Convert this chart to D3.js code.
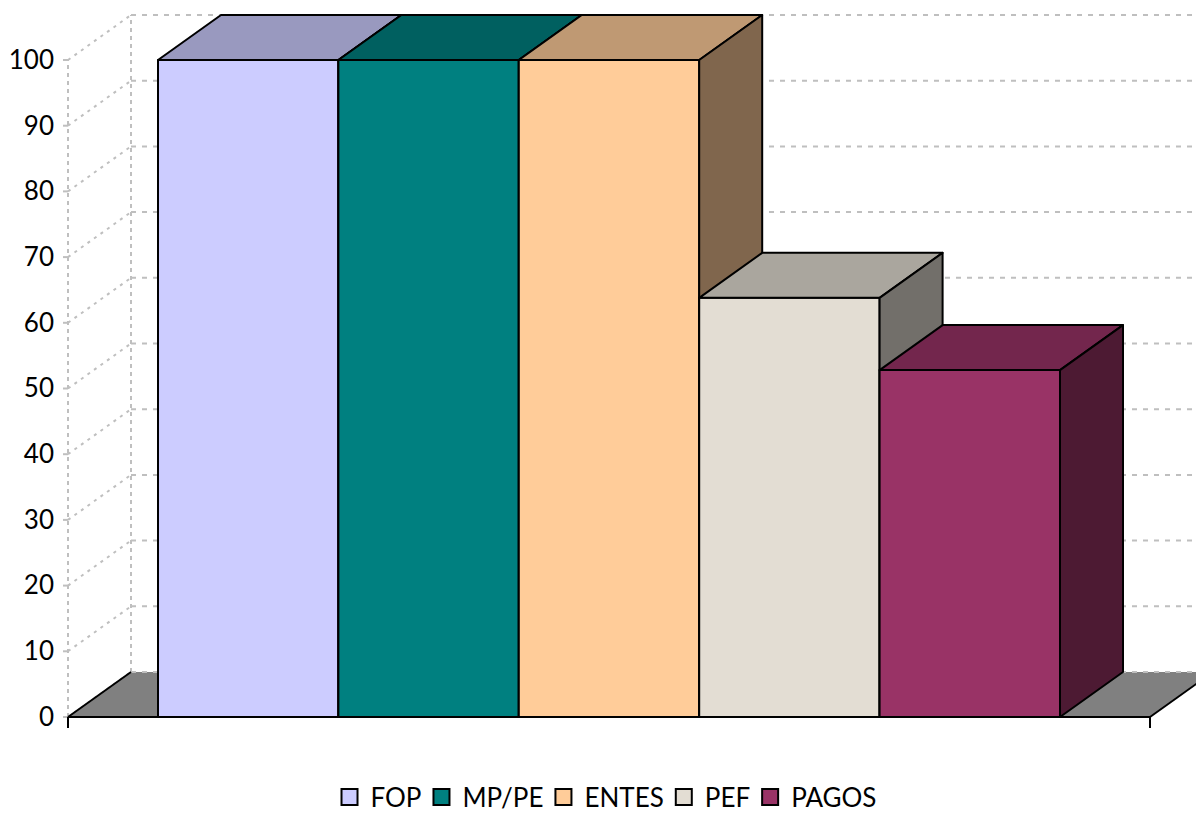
<!DOCTYPE html>
<html>
<head>
<meta charset="utf-8">
<script src="https://cdn.jsdelivr.net/npm/d3@7"></script>
<style>
  html, body { margin: 0; padding: 0; background: #fff; }
  svg text { font-family: Lato, "Open Sans", sans-serif; fill: #000; }
</style>
</head>
<body>
<svg id="chart" width="1196" height="815"></svg>
<script>
const SERIES = ["FOP", "MP/PE", "ENTES", "PEF", "PAGOS"];
const VALUES = [100, 100, 100, 63.8, 52.8];
const FRONT_COLORS = ["#CCCCFF", "#008080", "#FFCC99", "#E3DDD3", "#993366"];
const Y_TICKS = [0, 10, 20, 30, 40, 50, 60, 70, 80, 90, 100];

const svg = d3.select("#chart");
const plot = { left: 68, right: 1150, top: 60, bottom: 717 };
const depth = { dx: 63, dy: -45 };
const gap = 90;

const y = d3.scaleLinear().domain([0, 100]).range([plot.bottom, plot.top]);
const x = d3.scaleBand().domain(SERIES).range([plot.left + gap, plot.right - gap]);

const shade = (c, k) => { const r = d3.rgb(c); return d3.rgb(r.r * k, r.g * k, r.b * k).formatHex(); };
const pts = arr => arr.map(p => p.join(",")).join(" ");

const grid = svg.append("g").attr("stroke", "#BFBFBF").attr("stroke-width", 2).attr("fill", "none");

// back wall gridlines
grid.selectAll("line.back")
  .data(Y_TICKS.filter(d => d > 0))
  .join("line")
  .attr("x1", plot.left + depth.dx)
  .attr("x2", 1196)
  .attr("y1", d => y(d) + depth.dy)
  .attr("y2", d => y(d) + depth.dy)
  .attr("stroke-dasharray", "5,6");

// side wall diagonals
grid.selectAll("line.side")
  .data(Y_TICKS)
  .join("line")
  .attr("x1", plot.left)
  .attr("y1", d => y(d))
  .attr("x2", plot.left + depth.dx)
  .attr("y2", d => y(d) + depth.dy)
  .attr("stroke-dasharray", "3,5");

// wall verticals
[0, 1].forEach(i => {
  grid.append("line")
    .attr("x1", plot.left + i * depth.dx)
    .attr("x2", plot.left + i * depth.dx)
    .attr("y1", y(0) + i * depth.dy)
    .attr("y2", y(100) + i * depth.dy)
    .attr("stroke-dasharray", "4,4");
});

// small tick marks left of axis
grid.selectAll("line.tick")
  .data(Y_TICKS)
  .join("line")
  .attr("x1", plot.left - 5)
  .attr("x2", plot.left)
  .attr("y1", d => y(d))
  .attr("y2", d => y(d));

// floor
const floor = [
  [plot.left, y(0)],
  [plot.left + depth.dx, y(0) + depth.dy],
  [plot.right + depth.dx, y(0) + depth.dy],
  [plot.right, y(0)],
];
svg.append("polygon").attr("points", pts(floor)).attr("fill", "#808080").attr("stroke", "none");
svg.append("line")
  .attr("x1", floor[1][0]).attr("y1", floor[1][1]).attr("x2", floor[2][0]).attr("y2", floor[2][1])
  .attr("stroke", "#BFBFBF").attr("stroke-width", 2).attr("stroke-dasharray", "5,6");
[[floor[0], floor[1]], [floor[3], floor[2]]].forEach(([a, b]) => {
  svg.append("line").attr("x1", a[0]).attr("y1", a[1]).attr("x2", b[0]).attr("y2", b[1])
    .attr("stroke", "#000").attr("stroke-width", 2);
});

// bars
const bars = svg.append("g").attr("stroke", "#000").attr("stroke-width", 2).attr("stroke-linejoin", "round");
SERIES.forEach((s, i) => {
  const x0 = x(s), x1 = x(s) + x.bandwidth();
  const yt = y(VALUES[i]), yb = y(0);
  const c = FRONT_COLORS[i];
  const g = bars.append("g");
  g.append("polygon").attr("fill", c)
    .attr("points", pts([[x0, yt], [x1, yt], [x1, yb], [x0, yb]]));
  g.append("polygon").attr("fill", shade(c, 0.75))
    .attr("points", pts([[x0, yt], [x0 + depth.dx, yt + depth.dy], [x1 + depth.dx, yt + depth.dy], [x1, yt]]));
  g.append("polygon").attr("fill", shade(c, 0.5))
    .attr("points", pts([[x1, yt], [x1 + depth.dx, yt + depth.dy], [x1 + depth.dx, yb + depth.dy], [x1, yb]]));
});

// x axis baseline and end ticks
svg.append("line").attr("x1", plot.left).attr("x2", plot.right).attr("y1", y(0)).attr("y2", y(0))
  .attr("stroke", "#000").attr("stroke-width", 2);
[plot.left, plot.right].forEach(px => {
  svg.append("line").attr("x1", px).attr("x2", px).attr("y1", y(0)).attr("y2", y(0) + 11)
    .attr("stroke", "#000").attr("stroke-width", 2);
});

// y axis labels
const yAxis = d3.axisLeft(y).tickValues(Y_TICKS).tickSize(0).tickPadding(14);
svg.append("g")
  .attr("transform", `translate(${plot.left},0)`)
  .call(yAxis)
  .call(g => g.select(".domain").remove())
  .call(g => g.selectAll("text").attr("font-size", 26).attr("font-family", "Lato, 'Open Sans', sans-serif").attr("fill", "#000"));

// legend, centred under the plot
const legend = svg.append("g").attr("font-size", 26);
let lx = 0;
SERIES.forEach((s, i) => {
  legend.append("rect").attr("x", lx).attr("y", 789).attr("width", 16).attr("height", 16)
    .attr("fill", FRONT_COLORS[i]).attr("stroke", "#000").attr("stroke-width", 2);
  const t = legend.append("text").attr("x", lx + 29).attr("y", 807).text(s);
  lx += 29 + t.node().getComputedTextLength() + (i < SERIES.length - 1 ? 12 : 0);
});
legend.attr("transform", `translate(${609 - lx / 2},0)`);
</script>
</body>
</html>
